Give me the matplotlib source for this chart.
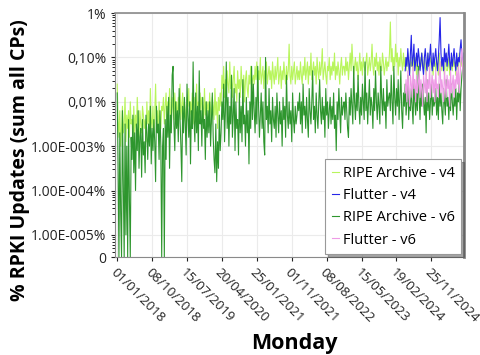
import numpy as np
import pandas as pd
import matplotlib
matplotlib.use("Agg")
import matplotlib.pyplot as plt

# weekly values, as 10*log10(% of updates); None = 0
ripe_v4_log = [
    -16,-24,-28,-22,-30,-26,-21,-27,-25,-19,-29,-23,-26,-22,-28,-20,-25,-24,-30,-21,-27,-23,-26,-19,-24,-28,
    -22,-25,-27,-21,-23,-26,-24,-29,-20,-25,-22,-27,-17,-24,-26,-21,-28,-23,-16,-25,-22,-27,-20,-24,-26,-21,
    -22,-19,-25,-21,-18,-24,-20,-23,-17,-22,-26,-19,-21,-24,-18,-23,-20,-25,-19,-22,-16,-24,-21,-18,-23,-20,
    -22,-26,-19,-21,-17,-24,-20,-23,-18,-22,-25,-19,-21,-16,-23,-20,-24,-18,-22,-19,-21,-25,-17,-23,-20,-22,
    -20,-23,-18,-22,-25,-19,-21,-24,-17,-23,-20,-26,-19,-22,-18,-21,-14,-17,-12,-19,-15,-20,-13,-16,-18,-11,
    -17,-14,-19,-15,-12,-18,-16,-20,-13,-17,-15,-19,-12,-16,-18,-14,-20,-15,-13,-17,-19,-14,-16,-12,-18,-15,
    -14,-16,-12,-15,-11,-17,-13,-15,-10,-16,-14,-12,-17,-13,-15,-11,-16,-14,-12,-15,-13,-17,-11,-14,-16,-12,
    -15,-13,-10,-16,-14,-12,-17,-13,-15,-11,-14,-16,-12,-15,-13,-7,-14,-16,-12,-15,-13,-11,-16,-14,-12,-15,
    -13,-15,-11,-14,-16,-12,-14,-10,-15,-13,-11,-16,-12,-14,-9,-15,-13,-11,-14,-12,-16,-10,-13,-15,-11,-14,
    -12,-8,-15,-13,-11,-14,-16,-12,-13,-10,-15,-12,-14,-11,-13,-9,-15,-12,-14,-11,-13,-16,-12,-10,-14,-12,
    -12,-14,-10,-13,-11,-15,-12,-9,-13,-7,-11,-14,-12,-10,-13,-11,-15,-12,-9,-13,-11,-14,-10,-12,-13,-11,
    -9,-14,-12,-10,-13,-11,-7,-12,-14,-10,-12,-9,-13,-11,-14,-10,-12,-13,-9,-11,-14,-12,-10,-13,-11,-12,
    -9,-2,-11,-8,-13,-10,-12,-7,-11,-9,-14,-10,-12,-8,-11,-13,-9,-12,-10,-13,-11,-9,-12,-14,-10,-12,
    -11,-13,-9,-12,-10,-14,-11,-12,-13,-10,-12,-9,-11,-13,-10,-12,-14,-11,-9,-12,-13,-10,-11,-12,-14,-10,
    -11,-13,-10,-12,-14,-9,-12,-11,-13,-10,-12,-14,-11,-9,-13,-12,-10,-14,-11,-12,-13,-10,-12,-11,-14,-10,
    -12,-13,-9,-11,-12,-10,-13,-11,
]
ripe_v6_log = [
    -18,-34,None,-27,-45,None,-22,-38,None,-25,-50,-30,None,-24,-42,None,-28,-33,-23,-36,-27,-40,-25,-31,-22,-35,
    -28,-26,-37,-24,-32,-29,-36,-23,-27,-33,-25,-30,-21,-34,-26,-31,-24,-29,-38,-21,-27,-25,-33,-22,-30,None,
    -30,-26,None,-24,-33,-21,-28,-19,-35,-23,-27,-14,-12,-25,-31,-20,-26,-22,-29,-17,-24,-30,-38,-21,-27,-19,
    -25,-32,-16,-23,-28,-20,-34,-22,-26,-11,-24,-29,-18,-27,-21,-31,-13,-25,-22,-30,-19,-26,-24,-33,-20,-28,
    -22,-27,-20,-30,-24,-18,-28,-33,-36,-25,-38,-29,-35,-23,-31,-27,-20,-24,-16,-29,-22,-11,-26,-19,-30,-21,
    -25,-14,-28,-23,-17,-31,-20,-26,-24,-32,-18,-27,-21,-29,-15,-25,-23,-30,-19,-27,-22,-34,-20,-26,-12,-24,
    -16,-22,-27,-19,-25,-12,-21,-28,-23,-18,-26,-20,-29,-32,-10,-24,-21,-27,-17,-25,-22,-29,-19,-24,-26,-21,
    -28,-18,-23,-27,-20,-25,-22,-30,-19,-24,-21,-28,-14,-23,-26,-20,-25,-22,-29,-18,-24,-27,-21,-25,-23,-20,
    -22,-18,-25,-20,-27,-16,-23,-21,-26,-19,-24,-28,-17,-22,-25,-20,-13,-24,-21,-27,-18,-23,-26,-20,-15,-22,
    -25,-19,-24,-21,-28,-17,-23,-20,-26,-22,-19,-25,-21,-24,-18,-26,-23,-31,-20,-24,-17,-22,-27,-19,-23,-21,
    -20,-24,-18,-22,-26,-28,-19,-23,-17,-21,-25,-12,-20,-24,-18,-22,-14,-21,-25,-19,-23,-16,-20,-24,-11,-22,
    -18,-25,-20,-15,-23,-19,-21,-26,-17,-22,-13,-20,-24,-18,-21,-25,-12,-19,-23,-17,-22,-20,-26,-15,-21,-19,
    -18,-22,-14,-20,-25,-12,-19,-23,-17,-21,-15,-24,-19,-13,-22,-26,-18,-21,-16,-23,-20,-14,-24,-19,-22,-17,
    -21,-25,-15,-20,-23,-18,-22,-12,-19,-24,-17,-21,-16,-20,-23,-19,-27,-15,-22,-18,-24,-20,-16,-23,-19,-21,
    -20,-17,-23,-19,-24,-16,-21,-18,-22,-25,-17,-20,-23,-15,-21,-19,-24,-18,-22,-16,-20,-23,-19,-21,-17,-24,
    -18,-20,-15,-22,-17,-14,-12,-11,
]
flutter_v4_log = [
    -13,-10,-12,-8,-11,-14,-9,-5,-12,-10,-7,-13,-11,-9,-12,-8,-10,-13,-11,-9,-12,-14,-10,-8,-11,-13,-9,-12,-10,-7,
    -11,-13,-9,-12,-10,-8,-11,-13,-10,-6,-1,-9,-12,-10,-13,-8,-11,-9,-12,-10,-7,-11,-13,-9,-12,-10,-8,-11,-13,-9,
    -12,-10,-11,-8,-6,-10,-12,-9,
]
flutter_v6_log = [
    -18,-15,-20,-13,-17,-21,-14,-16,-19,-12,-17,-15,-20,-14,-18,-16,-13,-19,-15,-17,-21,-14,-16,-18,-13,-20,-15,-17,-12,-19,
    -16,-14,-18,-15,-20,-13,-17,-16,-19,-14,-11,-18,-15,-17,-20,-13,-16,-19,-14,-17,-15,-21,-13,-18,-16,-14,-19,-15,-17,-13,
    -16,-12,-18,-14,-10,-8,-13,-15,
]

y_ticks_exp = [-5.5, -5, -4, -3, -2, -1, 0]
y_tick_labels = ["0", "1.00E-005%", "1.00E-004%", "1.00E-003%", "0,01%", "0,10%", "1%"]
x_tick_labels = ["01/01/2018", "08/10/2018", "15/07/2019", "20/04/2020", "25/01/2021",
                 "01/11/2021", "08/08/2022", "15/05/2023", "19/02/2024", "25/11/2024"]

zero_val = 10 ** -5.5


def to_pct(vals):
    return np.array([zero_val if v is None else 10 ** (v / 10) for v in vals])


dates = pd.date_range("2018-01-01", periods=len(ripe_v4_log), freq="7D")
dates_v6 = pd.date_range("2018-01-01", periods=len(ripe_v6_log), freq="7D")
end = max(dates[-1], dates_v6[-1])
fl_dates = pd.date_range(end=end, periods=len(flutter_v4_log), freq="7D")

plt.rcParams['font.family'] = ['Open Sans', 'DejaVu Sans']

fig = plt.figure(figsize=(4.8, 3.55), dpi=100)
ax = fig.add_axes([0.240, 0.276, 0.727, 0.687])

lw = 0.8
ax.plot(dates, to_pct(ripe_v4_log), color="#b8f55c", lw=lw, label="RIPE Archive - v4")
ax.plot(fl_dates, to_pct(flutter_v4_log), color="#2626e8", lw=lw, label="Flutter - v4")
ax.plot(dates_v6, to_pct(ripe_v6_log), color="#2e962e", lw=lw, label="RIPE Archive - v6")
ax.plot(fl_dates, to_pct(flutter_v6_log), color="#ee9be6", lw=lw, label="Flutter - v6")

ax.set_yscale("log")
ax.set_ylim(zero_val, 1.0)
ax.set_yticks([10 ** e for e in y_ticks_exp])
ax.set_yticklabels(y_tick_labels)
ax.yaxis.set_minor_locator(matplotlib.ticker.LogLocator(base=10, subs=np.arange(2, 10)))
ax.yaxis.set_minor_formatter(matplotlib.ticker.NullFormatter())

xt = pd.to_datetime(x_tick_labels, format="%d/%m/%Y")
ax.set_xticks(xt)
ax.set_xticklabels(x_tick_labels, rotation=-45, ha="left", va="top", rotation_mode="anchor")
ax.set_xlim(pd.Timestamp("2017-12-16"), pd.Timestamp("2025-08-15"))

ax.tick_params(axis="both", labelsize=10, colors="#222222", length=3, width=0.8)
ax.tick_params(axis="x", labelsize=9.6)
ax.tick_params(axis="y", which="minor", length=2, width=0.6)
ax.grid(True, which="major", color="#ebebeb", lw=0.8)
ax.set_axisbelow(True)
for s in ax.spines.values():
    s.set_color("#8a8a8a")
ax.spines["right"].set_linewidth(2)
ax.spines["top"].set_linewidth(1.2)

fig.text(20 / 480, 1 - 160 / 355, "% RPKI Updates (sum all CPs)", rotation=90,
         ha="center", va="center", fontsize=14, fontweight="bold")
fig.text(294 / 480, 1 - 343 / 355, "Monday", ha="center", va="center",
         fontsize=15.5, fontweight="bold")

leg = ax.legend(loc="lower right", fontsize=10.5, handlelength=0.5, handletextpad=0.25,
                borderaxespad=0.2, frameon=True, fancybox=False, shadow=True,
                borderpad=0.45, labelspacing=0.5)
leg.get_frame().set_edgecolor("#999999")
leg.get_frame().set_linewidth(0.8)

fig.savefig("out.png", dpi=100)
